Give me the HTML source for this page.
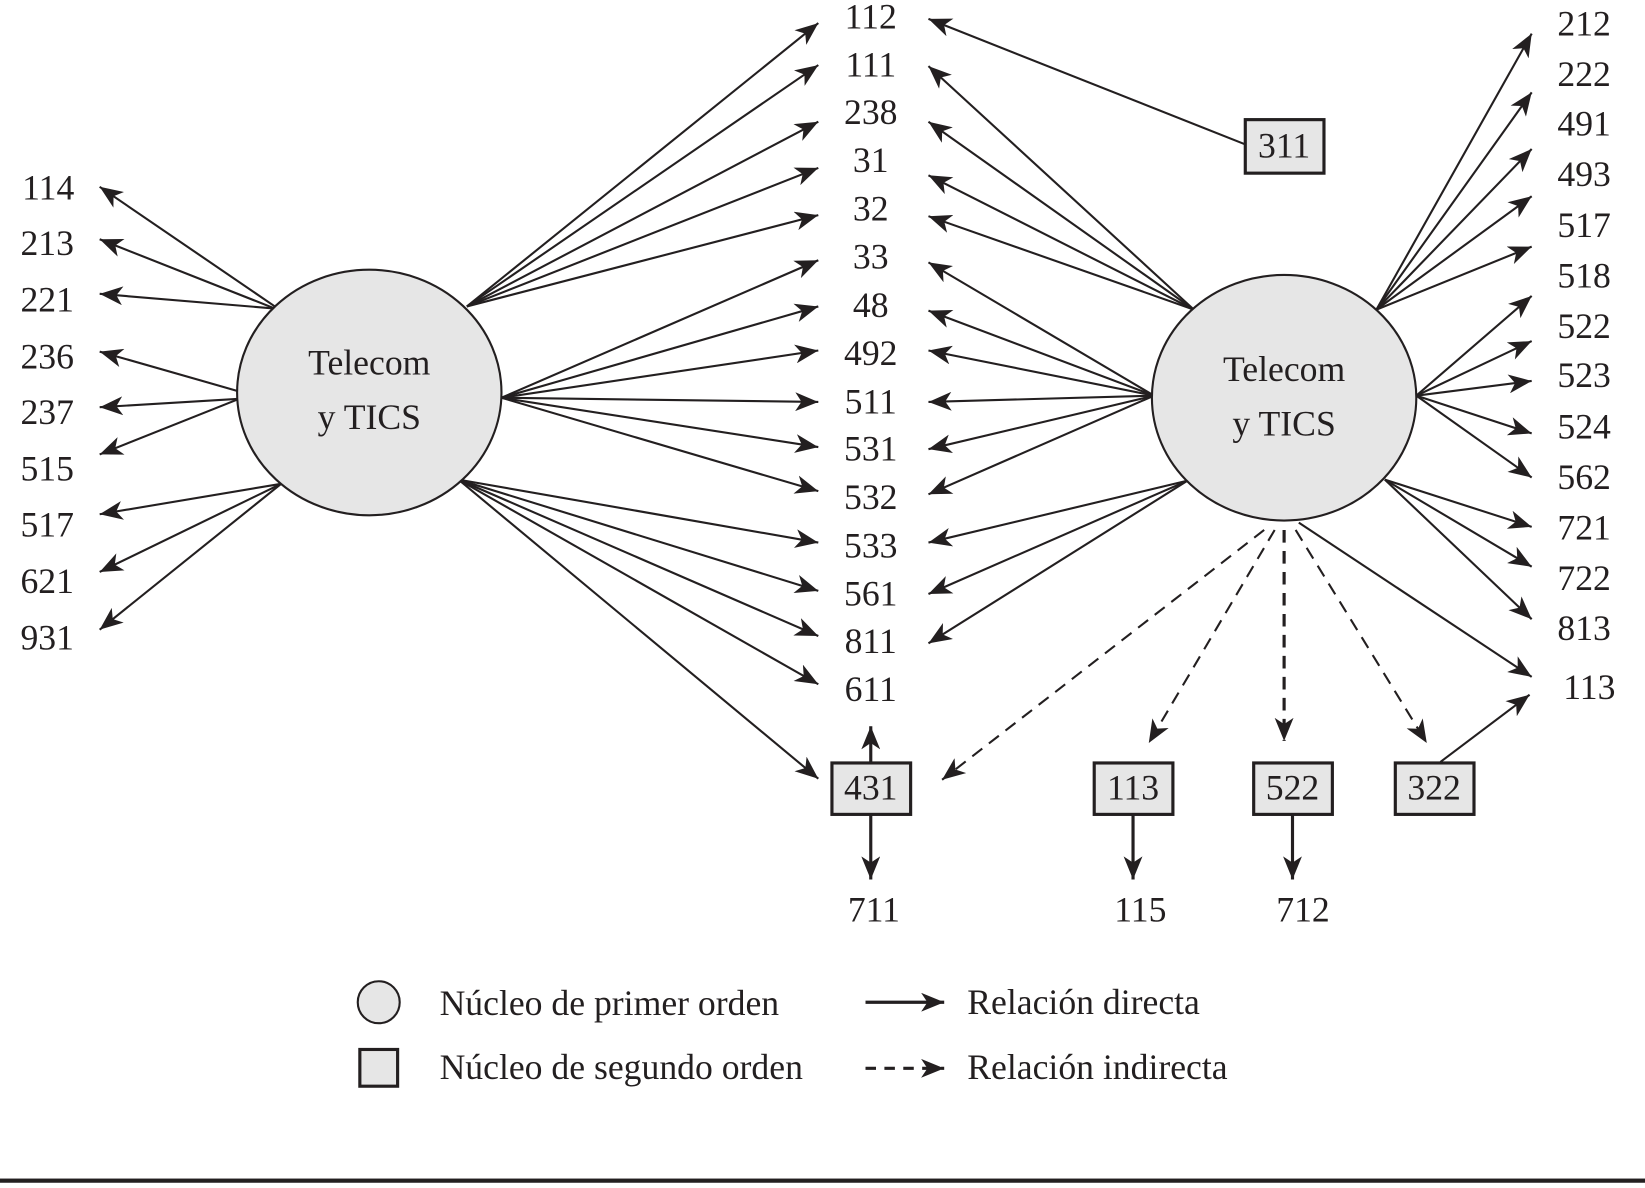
<!DOCTYPE html>
<html><head><meta charset="utf-8"><style>
html,body{margin:0;padding:0;background:#fff;}
svg{display:block;}
text{font-family:"Liberation Serif",serif;font-size:34px;fill:#231f20;}
</style></head><body>
<svg width="1645" height="1188" viewBox="0 0 1568 1132" preserveAspectRatio="none" xmlns="http://www.w3.org/2000/svg">
<defs>
<marker id="a" markerUnits="userSpaceOnUse" markerWidth="24" markerHeight="18" refX="22" refY="9" orient="auto">
<path d="M0,0 L22,9 L0,18 L6,9 Z" fill="#231f20"/>
</marker>
</defs>
<g stroke="#231f20" stroke-width="2" fill="none" marker-end="url(#a)">
<line x1="262" y1="292" x2="95" y2="178"/>
<line x1="262" y1="294" x2="95" y2="228"/>
<line x1="262" y1="294" x2="95" y2="280"/>
<line x1="228" y1="373" x2="95" y2="335"/>
<line x1="228" y1="380" x2="95" y2="388"/>
<line x1="228" y1="380" x2="95" y2="433"/>
<line x1="268" y1="461" x2="95" y2="490"/>
<line x1="268" y1="461" x2="95" y2="545"/>
<line x1="268" y1="461" x2="95" y2="600"/>
<line x1="445" y1="292" x2="780" y2="22"/>
<line x1="445" y1="292" x2="780" y2="62"/>
<line x1="445" y1="292" x2="780" y2="116"/>
<line x1="445" y1="292" x2="780" y2="160"/>
<line x1="445" y1="292" x2="780" y2="205"/>
<line x1="478" y1="379" x2="780" y2="248"/>
<line x1="478" y1="379" x2="780" y2="292"/>
<line x1="478" y1="379" x2="780" y2="334"/>
<line x1="478" y1="379" x2="780" y2="383"/>
<line x1="478" y1="379" x2="780" y2="426"/>
<line x1="478" y1="379" x2="780" y2="468"/>
<line x1="437" y1="457" x2="780" y2="517"/>
<line x1="437" y1="457" x2="780" y2="563"/>
<line x1="437" y1="457" x2="780" y2="606"/>
<line x1="437" y1="457" x2="780" y2="652"/>
<line x1="437" y1="457" x2="780" y2="742"/>
<line x1="1188" y1="138" x2="885" y2="18"/>
<line x1="1138" y1="295" x2="885" y2="63"/>
<line x1="1138" y1="295" x2="885" y2="116"/>
<line x1="1138" y1="295" x2="885" y2="167"/>
<line x1="1138" y1="295" x2="885" y2="206"/>
<line x1="1100" y1="377" x2="885" y2="250"/>
<line x1="1100" y1="377" x2="885" y2="296"/>
<line x1="1100" y1="377" x2="885" y2="334"/>
<line x1="1100" y1="377" x2="885" y2="383"/>
<line x1="1100" y1="377" x2="885" y2="428"/>
<line x1="1100" y1="377" x2="885" y2="471"/>
<line x1="1132" y1="458" x2="885" y2="517"/>
<line x1="1132" y1="458" x2="885" y2="566"/>
<line x1="1132" y1="458" x2="885" y2="613"/>
<line x1="1312" y1="295" x2="1460" y2="32"/>
<line x1="1312" y1="295" x2="1460" y2="88"/>
<line x1="1312" y1="295" x2="1460" y2="142"/>
<line x1="1312" y1="295" x2="1460" y2="187"/>
<line x1="1312" y1="295" x2="1460" y2="235"/>
<line x1="1350" y1="377" x2="1460" y2="282"/>
<line x1="1350" y1="377" x2="1460" y2="325"/>
<line x1="1350" y1="377" x2="1460" y2="363"/>
<line x1="1350" y1="377" x2="1460" y2="413"/>
<line x1="1350" y1="377" x2="1460" y2="455"/>
<line x1="1320" y1="457" x2="1460" y2="502"/>
<line x1="1320" y1="457" x2="1460" y2="540"/>
<line x1="1320" y1="457" x2="1460" y2="590"/>
<line x1="1238" y1="498" x2="1460" y2="645"/>
<line x1="1373" y1="726" x2="1458" y2="662"/>
<line x1="830" y1="727" x2="830" y2="692" stroke-width="3"/>
<line x1="830" y1="776" x2="830" y2="838" stroke-width="3"/>
<line x1="1080" y1="776" x2="1080" y2="838" stroke-width="3"/>
<line x1="1232" y1="776" x2="1232" y2="838" stroke-width="3"/>
<g stroke-dasharray="12,8">
<line x1="1205" y1="505" x2="898" y2="743"/>
<line x1="1215" y1="505" x2="1095" y2="708"/>
<line x1="1224" y1="505" x2="1224" y2="706" stroke-width="3"/>
<line x1="1235" y1="505" x2="1360" y2="708"/>
</g>
<line x1="825" y1="955" x2="900" y2="955" stroke-width="3"/>
<line x1="825" y1="1018" x2="900" y2="1018" stroke-width="3" stroke-dasharray="10,8"/>
</g>
<ellipse cx="352" cy="374" rx="126" ry="117" fill="#e6e6e6" stroke="#231f20" stroke-width="2"/>
<ellipse cx="1224" cy="379" rx="126" ry="117" fill="#e6e6e6" stroke="#231f20" stroke-width="2"/>
<text x="352" y="357" text-anchor="middle">Telecom</text>
<text x="352" y="409" text-anchor="middle">y TICS</text>
<text x="1224" y="363" text-anchor="middle">Telecom</text>
<text x="1224" y="415" text-anchor="middle">y TICS</text>
<g fill="#e6e6e6" stroke="#231f20" stroke-width="3">
<rect x="1187" y="114" width="75" height="51"/>
<rect x="793" y="727" width="75" height="49"/>
<rect x="1043" y="727" width="75" height="49"/>
<rect x="1195" y="727" width="75" height="49"/>
<rect x="1330" y="727" width="75" height="49"/>
</g>
<g text-anchor="middle">
<text x="1224" y="150">311</text>
<text x="830" y="762">431</text>
<text x="1080" y="762">113</text>
<text x="1232" y="762">522</text>
<text x="1367" y="762">322</text>
<text x="833" y="878">711</text>
<text x="1087" y="878">115</text>
<text x="1242" y="878">712</text>
<text x="46" y="190">114</text>
<text x="45" y="243">213</text>
<text x="45" y="297">221</text>
<text x="45" y="351">236</text>
<text x="45" y="404">237</text>
<text x="45" y="458">515</text>
<text x="45" y="511">517</text>
<text x="45" y="565">621</text>
<text x="45" y="619">931</text>
<text x="830" y="27">112</text>
<text x="830" y="73">111</text>
<text x="830" y="118">238</text>
<text x="830" y="164">31</text>
<text x="830" y="210">32</text>
<text x="830" y="256">33</text>
<text x="830" y="302">48</text>
<text x="830" y="348">492</text>
<text x="830" y="394">511</text>
<text x="830" y="439">531</text>
<text x="830" y="485">532</text>
<text x="830" y="531">533</text>
<text x="830" y="577">561</text>
<text x="830" y="622">811</text>
<text x="830" y="668">611</text>
<text x="1510" y="34">212</text>
<text x="1510" y="82">222</text>
<text x="1510" y="129">491</text>
<text x="1510" y="177">493</text>
<text x="1510" y="226">517</text>
<text x="1510" y="274">518</text>
<text x="1510" y="322">522</text>
<text x="1510" y="369">523</text>
<text x="1510" y="418">524</text>
<text x="1510" y="466">562</text>
<text x="1510" y="514">721</text>
<text x="1510" y="562">722</text>
<text x="1510" y="610">813</text>
<text x="1515" y="666">113</text>
</g>
<circle cx="361" cy="955" r="20" fill="#e6e6e6" stroke="#231f20" stroke-width="2"/>
<rect x="343" y="1000" width="36" height="35" fill="#e6e6e6" stroke="#231f20" stroke-width="3"/>
<text x="419" y="967">Núcleo de primer orden</text>
<text x="419" y="1028">Núcleo de segundo orden</text>
<text x="922" y="966">Relación directa</text>
<text x="922" y="1028">Relación indirecta</text>
<rect x="0" y="1123" width="1568" height="4" fill="#231f20"/>
</svg>
</body></html>
